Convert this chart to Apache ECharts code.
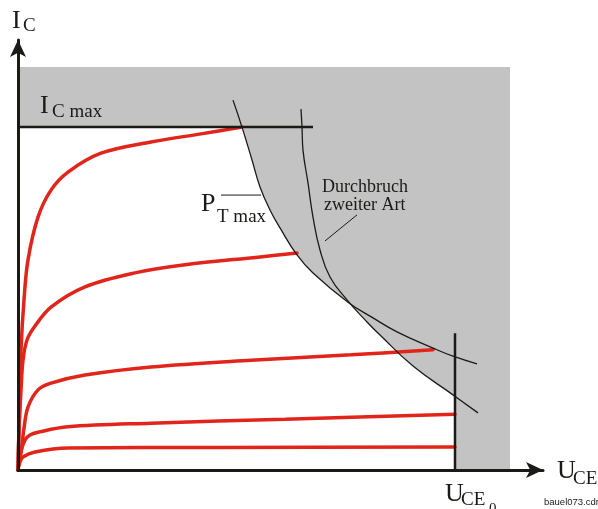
<!DOCTYPE html>
<html>
<head>
<meta charset="utf-8">
<script src="https://cdn.jsdelivr.net/npm/echarts@6/dist/echarts.min.js"></script>
<style>html,body{margin:0;padding:0;background:#fff}#c{width:598px;height:509px}</style>
</head>
<body>
<div id="c"></div>
<script>
// Output characteristics (arbitrary units: x = U_CE, y = I_C)
const icMax = 76.2;           // I_C max
const icMaxLineEnd = 59.0;    // drawn length of the I_C max line
const uce0 = 87.4;            // U_CE0
const uce0Top = 30.4;         // height of U_CE0 line
const greyX = 98.4, greyY = 89.56;

const ptMax = [[43.0,82.2],[44.8,76.2],[46.8,68.9],[48.4,62.9],[50.4,57.8],[52.4,53.8],[55.8,47.8],[59.0,43.8],[66.0,37.3],[71.0,33.8],[75.8,30.7],[83.0,27.1],[87.0,25.3],[91.8,23.6]];
const breakdown = [[56.6,80.2],[56.8,76.2],[57.0,71.1],[58.0,63.8],[59.0,56.2],[60.4,48.9],[62.4,42.9],[65.8,37.8],[69.8,32.9],[72.4,30.0],[79.0,23.1],[87.0,16.7],[92.0,12.7]];

const curve1 = [[0,0],[0.2,8.9],[0.4,16.7],[0.6,26.7],[1.2,37.8],[2.0,46.7],[4.0,56.2],[6.6,62.2],[10.0,66.2],[16.6,70.4],[26.6,72.9],[36.6,74.7],[44.8,76.2]];
const curve2 = [[0,0],[0.2,8.9],[0.6,17.8],[1.0,24.4],[1.8,28.9],[3.4,32.0],[6.6,36.2],[13.4,40.7],[23.4,43.8],[33.4,45.6],[48.0,47.3],[55.8,48.2]];
const curve3 = [[0,0],[0.2,1.8],[0.6,3.8],[1.2,9.3],[2.0,14.0],[4.0,17.8],[6.6,19.3],[13.4,21.1],[26.6,22.9],[46.6,24.4],[66.6,25.6],[83.0,26.7]];
const curve4 = [[0,0],[0.4,3.3],[1.4,6.7],[2.4,7.8],[4.0,8.4],[10.0,9.6],[26.6,10.4],[53.4,11.3],[87.4,12.4]];
const curve5 = [[0,0],[0.4,1.8],[1.0,2.9],[3.4,4.0],[10.0,4.9],[40.0,5.0],[87.4,5.1]];

const ptLeader = [[40.6,61.1],[48.6,61.1]];
const bdLeader = [[61.4,50.9],[67.8,56.7]];

function interp(arr, x) {
  if (x < arr[0][0]) return Infinity;
  for (let i = 0; i < arr.length - 1; i++) {
    const a = arr[i], b = arr[i+1];
    if (x >= a[0] && x <= b[0]) return a[1] + (b[1]-a[1]) * (x-a[0]) / (b[0]-a[0]);
  }
  return -Infinity;
}
const safeArea = [];
for (let i = 0; i <= 874; i++) {
  const x = Math.min(i / 10, uce0);
  safeArea.push([x, Math.min(icMax, interp(ptMax, x), interp(breakdown, x))]);
}

const red = '#e1251b', ink = '#1c1a17';
function redLine(d) {
  return {type:'line', data:d, smooth:0.35, showSymbol:false, silent:true, z:6,
    lineStyle:{color:red, width:3.5, cap:'round'}};
}
function blackLine(d, w, smooth) {
  return {type:'line', data:d, smooth:smooth||false, showSymbol:false, silent:true, z:7,
    lineStyle:{color:ink, width:w}};
}

const chart = echarts.init(document.getElementById('c'));
const serif = '"Liberation Serif", "Times New Roman", serif';
function txt(s, x, y, size, fam) {
  return {type:'text', x:x, y:y, z:100, style:{text:s, fontSize:size, fontFamily:fam||serif, fill:ink, verticalAlign:'middle', align:'left'}};
}
chart.setOption({
  animation:false,
  grid:{left:18, right:55, top:40, bottom:39},
  xAxis:{type:'value', min:0, max:105, z:10,
    axisLine:{lineStyle:{color:ink, width:3}, symbol:['none','arrow'], symbolSize:[12,17]},
    axisTick:{show:false}, axisLabel:{show:false}, splitLine:{show:false}},
  yAxis:{type:'value', min:0, max:95.56, z:10,
    axisLine:{lineStyle:{color:ink, width:3}, symbol:['none','arrow'], symbolSize:[12,17]},
    axisTick:{show:false}, axisLabel:{show:false}, splitLine:{show:false}},
  series:[
    {type:'line', data:[[0,greyY],[greyX,greyY]], showSymbol:false, silent:true, z:1,
      lineStyle:{width:0}, areaStyle:{color:'#c3c3c3', opacity:1}},
    {type:'line', data:safeArea, showSymbol:false, silent:true, z:2,
      lineStyle:{width:0}, areaStyle:{color:'#ffffff', opacity:1}},
    redLine(curve1), redLine(curve2), redLine(curve3), redLine(curve4), redLine(curve5),
    blackLine([[0,icMax],[icMaxLineEnd,icMax]], 2.5),
    blackLine([[uce0,0],[uce0,uce0Top]], 2.5),
    blackLine(ptMax, 1.3, 0.45),
    blackLine(breakdown, 1.3, 0.45),
    blackLine(ptLeader, 1),
    blackLine(bdLeader, 1)
  ],
  graphic:[
    txt('I', 12, 21, 26), txt('C', 23, 26, 19),
    txt('I', 40, 106, 26), txt('C max', 52, 112, 19),
    txt('P', 201, 204, 26), txt('T max', 217, 217, 19),
    txt('Durchbruch', 322, 187, 18), txt('zweiter Art', 324, 205, 18),
    txt('U', 557, 471, 26), txt('CE', 573, 479, 19),
    txt('U', 445, 494, 26), txt('CE', 461, 500, 19), txt('0', 489, 509, 15),
    txt('bauel073.cdr', 544, 502, 9.5, '"Liberation Sans", Arial, sans-serif')
  ]
});
</script>
</body>
</html>
